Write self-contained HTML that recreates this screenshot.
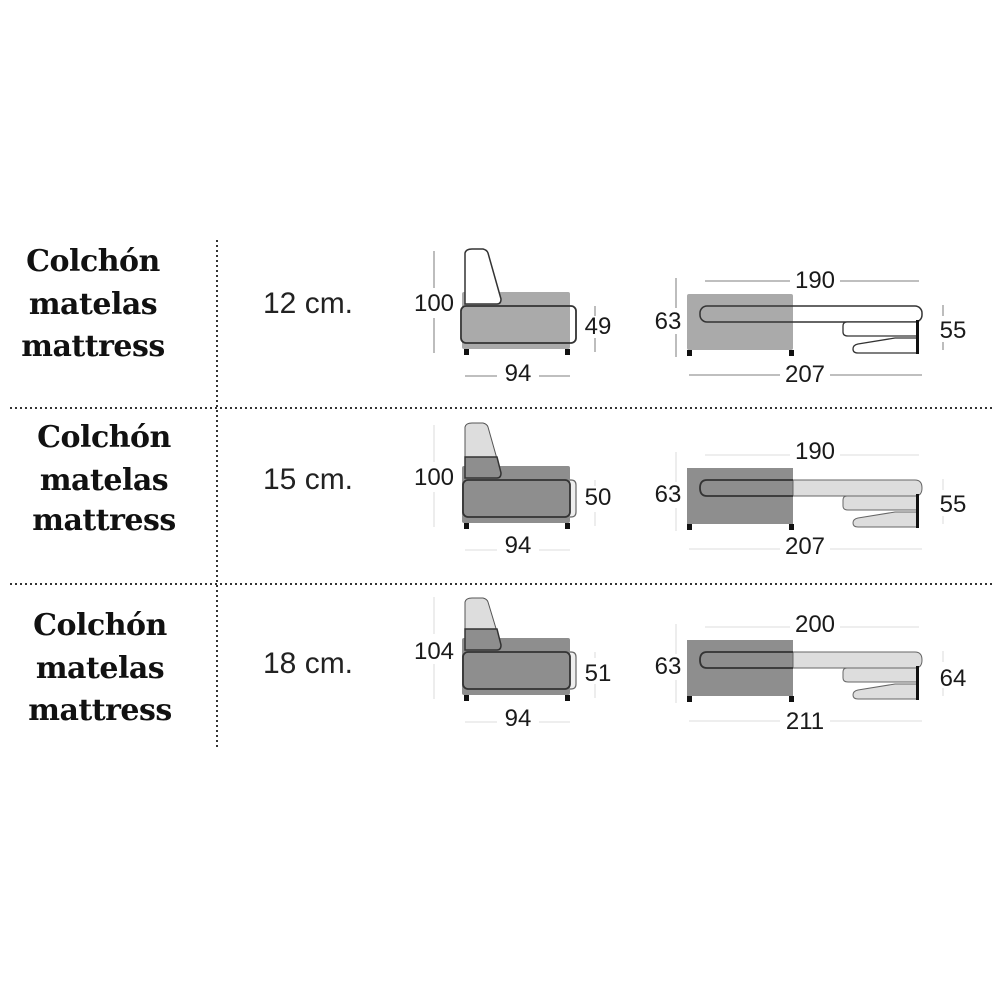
<!DOCTYPE html>
<html><head><meta charset="utf-8"><style>
html,body{margin:0;padding:0;background:#fff;width:1000px;height:1000px;overflow:hidden}
svg{display:block}
.lbl{font-family:"DejaVu Serif","Liberation Serif",serif;font-weight:bold;font-size:30px;fill:#111;text-anchor:middle}
.cm{font-family:"Liberation Sans",sans-serif;font-size:30px;fill:#222;text-anchor:middle}
.d{font-family:"Liberation Sans",sans-serif;font-size:24px;fill:#1a1a1a;text-anchor:middle}
</style></head><body>
<svg width="1000" height="1000" viewBox="0 0 1000 1000">
<g stroke="#333" stroke-width="2" stroke-dasharray="2 3">
<line x1="217" y1="240" x2="217" y2="750"/>
<line x1="10" y1="408" x2="995" y2="408"/>
<line x1="10" y1="584" x2="995" y2="584"/>
</g>
<g letter-spacing="-0.5">
<text class="lbl" x="93" y="271">Colchón</text><text class="lbl" x="93" y="314">matelas</text><text class="lbl" x="93" y="356">mattress</text>
<text class="lbl" x="104" y="447">Colchón</text><text class="lbl" x="104" y="490">matelas</text><text class="lbl" x="104" y="530">mattress</text>
<text class="lbl" x="100" y="635">Colchón</text><text class="lbl" x="100" y="678">matelas</text><text class="lbl" x="100" y="720">mattress</text>
</g>
<text class="cm" x="308" y="313">12 cm.</text>
<text class="cm" x="308" y="489">15 cm.</text>
<text class="cm" x="308" y="673">18 cm.</text>

<!-- Row 1 -->
<g>
<g stroke="#999" stroke-width="1.3">
<line x1="434" y1="251" x2="434" y2="288"/><line x1="434" y1="318" x2="434" y2="353"/>
<line x1="595" y1="306" x2="595" y2="316"/><line x1="595" y1="338" x2="595" y2="352"/>
<line x1="465" y1="376" x2="497" y2="376"/><line x1="539" y1="376" x2="570" y2="376"/>
<line x1="676" y1="278" x2="676" y2="308"/><line x1="676" y1="334" x2="676" y2="357"/>
<line x1="705" y1="281" x2="790" y2="281"/><line x1="840" y1="281" x2="919" y2="281"/>
<line x1="943" y1="305" x2="943" y2="316"/><line x1="943" y1="342" x2="943" y2="350"/>
<line x1="689" y1="375" x2="780" y2="375"/><line x1="830" y1="375" x2="922" y2="375"/>
</g>
<rect x="462" y="292" width="108" height="57" rx="2" fill="#aaa"/>
<path d="M465,304 L465,253 Q466,249 472,249 L483,249 Q487,250 488,253 L501,299 Q501,304 497,304 Z" fill="#fff" stroke="#333" stroke-width="1.5"/>
<rect x="461" y="306" width="115" height="37" rx="5" fill="none" stroke="#333" stroke-width="1.8"/>
<rect x="464" y="349" width="5" height="6" fill="#111"/><rect x="565" y="349" width="5" height="6" fill="#111"/>
<rect x="687" y="294" width="106" height="56" rx="2" fill="#aaa"/>
<rect x="700" y="306" width="222" height="16" rx="7" fill="none" stroke="#333" stroke-width="1.5"/>
<path d="M917,322 L847,322 Q843,322 843,326 L843,332 Q843,336 848,336 L917,336" fill="#fff" stroke="#333" stroke-width="1.3"/>
<path d="M917,338 L895,338 L858,344 Q853,345 853,349 Q853,353 858,353 L917,353" fill="#fff" stroke="#333" stroke-width="1.3"/>
<rect x="916" y="320" width="3" height="34" fill="#111"/>
<rect x="687" y="350" width="5" height="6" fill="#111"/><rect x="789" y="350" width="5" height="6" fill="#111"/>
<text class="d" x="434" y="311">100</text><text class="d" x="598" y="334">49</text><text class="d" x="518" y="381">94</text>
<text class="d" x="815" y="288">190</text><text class="d" x="668" y="329">63</text><text class="d" x="953" y="338">55</text><text class="d" x="805" y="382">207</text>
</g>

<!-- Row 2 -->
<g transform="translate(0,174)">
<g stroke="#e3e3e3" stroke-width="1.3">
<line x1="434" y1="251" x2="434" y2="288"/><line x1="434" y1="318" x2="434" y2="353"/>
<line x1="595" y1="306" x2="595" y2="312"/><line x1="595" y1="338" x2="595" y2="352"/>
<line x1="465" y1="376" x2="497" y2="376"/><line x1="539" y1="376" x2="570" y2="376"/>
<line x1="676" y1="278" x2="676" y2="308"/><line x1="676" y1="334" x2="676" y2="357"/>
<line x1="705" y1="281" x2="790" y2="281"/><line x1="840" y1="281" x2="919" y2="281"/>
<line x1="943" y1="305" x2="943" y2="316"/><line x1="943" y1="342" x2="943" y2="350"/>
<line x1="689" y1="375" x2="780" y2="375"/><line x1="830" y1="375" x2="922" y2="375"/>
</g>
<rect x="462" y="292" width="108" height="57" rx="2" fill="#8e8e8e"/>
<path d="M465,304 L465,253 Q466,249 472,249 L483,249 Q487,250 488,253 L501,299 Q501,304 497,304 Z" fill="#ddd" stroke="#555" stroke-width="1"/>
<path d="M465,283 L497,283 L501,299 Q501,304 497,304 L465,304 Z" fill="#8e8e8e" stroke="#333" stroke-width="1.5"/>
<path d="M570,306 L571,306 Q576,306 576,311 L576,338 Q576,343 571,343 L570,343" fill="#eee" stroke="#666" stroke-width="1.2"/>
<rect x="463" y="306" width="107" height="37" rx="5" fill="none" stroke="#333" stroke-width="1.8"/>
<rect x="464" y="349" width="5" height="6" fill="#111"/><rect x="565" y="349" width="5" height="6" fill="#111"/>
<rect x="687" y="294" width="106" height="56" fill="#8e8e8e"/>
<path d="M793,306 L915,306 Q922,306 922,314 Q922,322 915,322 L793,322 Z" fill="#ddd" stroke="#666" stroke-width="1"/>
<path d="M793,306 L707,306 Q700,306 700,314 Q700,322 707,322 L793,322" fill="none" stroke="#333" stroke-width="1.8"/>
<path d="M917,322 L847,322 Q843,322 843,326 L843,332 Q843,336 848,336 L917,336" fill="#ddd" stroke="#666" stroke-width="1"/>
<path d="M917,338 L895,338 L858,344 Q853,345 853,349 Q853,353 858,353 L917,353" fill="#ddd" stroke="#666" stroke-width="1"/>
<rect x="916" y="320" width="3" height="34" fill="#111"/>
<rect x="687" y="350" width="5" height="6" fill="#111"/><rect x="789" y="350" width="5" height="6" fill="#111"/>
<text class="d" x="434" y="311">100</text><text class="d" x="598" y="331">50</text><text class="d" x="518" y="379">94</text>
<text class="d" x="815" y="285">190</text><text class="d" x="668" y="328">63</text><text class="d" x="953" y="338">55</text><text class="d" x="805" y="380">207</text>
</g>

<!-- Row 3 -->
<g transform="translate(0,346)">
<g stroke="#e3e3e3" stroke-width="1.3">
<line x1="434" y1="251" x2="434" y2="288"/><line x1="434" y1="318" x2="434" y2="353"/>
<line x1="595" y1="306" x2="595" y2="312"/><line x1="595" y1="338" x2="595" y2="352"/>
<line x1="465" y1="376" x2="497" y2="376"/><line x1="539" y1="376" x2="570" y2="376"/>
<line x1="676" y1="278" x2="676" y2="308"/><line x1="676" y1="334" x2="676" y2="357"/>
<line x1="705" y1="281" x2="790" y2="281"/><line x1="840" y1="281" x2="919" y2="281"/>
<line x1="943" y1="305" x2="943" y2="316"/><line x1="943" y1="342" x2="943" y2="350"/>
<line x1="689" y1="375" x2="780" y2="375"/><line x1="830" y1="375" x2="922" y2="375"/>
</g>
<rect x="462" y="292" width="108" height="57" rx="2" fill="#8e8e8e"/>
<path d="M465,304 L465,256 Q466,252 472,252 L483,252 Q487,253 488,256 L501,299 Q501,304 497,304 Z" fill="#ddd" stroke="#555" stroke-width="1"/>
<path d="M465,283 L497,283 L501,299 Q501,304 497,304 L465,304 Z" fill="#8e8e8e" stroke="#333" stroke-width="1.5"/>
<path d="M570,306 L571,306 Q576,306 576,311 L576,338 Q576,343 571,343 L570,343" fill="#eee" stroke="#666" stroke-width="1.2"/>
<rect x="463" y="306" width="107" height="37" rx="5" fill="none" stroke="#333" stroke-width="1.8"/>
<rect x="464" y="349" width="5" height="6" fill="#111"/><rect x="565" y="349" width="5" height="6" fill="#111"/>
<rect x="687" y="294" width="106" height="56" fill="#8e8e8e"/>
<path d="M793,306 L915,306 Q922,306 922,314 Q922,322 915,322 L793,322 Z" fill="#ddd" stroke="#666" stroke-width="1"/>
<path d="M793,306 L707,306 Q700,306 700,314 Q700,322 707,322 L793,322" fill="none" stroke="#333" stroke-width="1.8"/>
<path d="M917,322 L847,322 Q843,322 843,326 L843,332 Q843,336 848,336 L917,336" fill="#ddd" stroke="#666" stroke-width="1"/>
<path d="M917,338 L895,338 L858,344 Q853,345 853,349 Q853,353 858,353 L917,353" fill="#ddd" stroke="#666" stroke-width="1"/>
<rect x="916" y="320" width="3" height="34" fill="#111"/>
<rect x="687" y="350" width="5" height="6" fill="#111"/><rect x="789" y="350" width="5" height="6" fill="#111"/>
<text class="d" x="434" y="313">104</text><text class="d" x="598" y="335">51</text><text class="d" x="518" y="380">94</text>
<text class="d" x="815" y="286">200</text><text class="d" x="668" y="328">63</text><text class="d" x="953" y="340">64</text><text class="d" x="805" y="383">211</text>
</g>
</svg>
</body></html>
